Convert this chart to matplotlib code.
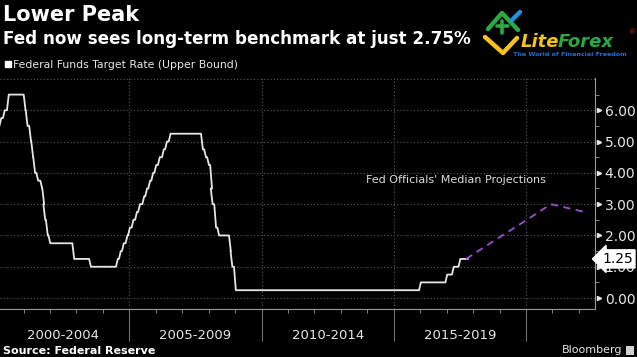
import matplotlib
matplotlib.use("Agg")
import matplotlib.pyplot as plt
import matplotlib.transforms as mtransforms
from matplotlib.lines import Line2D
import numpy as np
from datetime import date

# fed funds target rate, upper bound (change dates)
rate_dates = ["1999-11-16", "2000-02-02", "2000-03-21", "2000-05-16", "2001-01-03",
              "2001-01-31", "2001-03-20", "2001-04-18", "2001-05-15", "2001-06-27",
              "2001-08-21", "2001-09-17", "2001-10-02", "2001-11-06", "2001-12-11",
              "2002-11-06", "2003-06-25", "2004-06-30", "2004-08-10", "2004-09-21",
              "2004-11-10", "2004-12-14", "2005-02-02", "2005-03-22", "2005-05-03",
              "2005-06-30", "2005-08-09", "2005-09-20", "2005-11-01", "2005-12-13",
              "2006-01-31", "2006-03-28", "2006-05-10", "2006-06-29", "2007-09-18",
              "2007-10-31", "2007-12-11", "2008-01-22", "2008-01-30", "2008-03-18",
              "2008-04-30", "2008-10-08", "2008-10-29", "2008-12-16", "2015-12-16",
              "2016-12-14", "2017-03-15", "2017-06-14", "2017-09-25"]
rate_values = [5.50, 5.75, 6.00, 6.50, 6.00, 5.50, 5.00, 4.50, 4.00, 3.75,
               3.50, 3.00, 2.50, 2.00, 1.75, 1.25, 1.00, 1.25, 1.50, 1.75,
               2.00, 2.25, 2.50, 2.75, 3.00, 3.25, 3.50, 3.75, 4.00, 4.25,
               4.50, 4.75, 5.00, 5.25, 4.75, 4.50, 4.25, 3.50, 3.00, 2.25,
               2.00, 1.50, 1.00, 0.25, 0.50, 0.75, 1.00, 1.25, 1.25]

# fed officials' median projections
proj_dates = ["2017-09-25", "2018-12-31", "2019-12-31", "2020-12-10", "2022-03-25"]
proj_values = [1.25, 1.94, 2.48, 3.00, 2.75]

period_labels = ["2000-2004", "2005-2009", "2010-2014", "2015-2019"]
period_starts = [2000, 2005, 2010, 2015, 2020]
y_ticks = [0, 1, 2, 3, 4, 5, 6]
last_value = 1.25


def to_year(s):
    d = date.fromisoformat(s)
    start = date(d.year, 1, 1)
    return d.year + (d - start).days / 365.25


# the source chart is sampled coarsely, so each change ramps over ~ a month
ramp = 0.07
line_x, line_y = [], []
for i, s in enumerate(rate_dates):
    t = to_year(s)
    if i > 0:
        line_x.append(t)
        line_y.append(rate_values[i - 1])
        t = t + ramp
    line_x.append(t)
    line_y.append(rate_values[i])
proj_x = [to_year(s) for s in proj_dates]

W, H = 637, 357
fig = plt.figure(figsize=(W / 100, H / 100), dpi=100, facecolor="black")
ax = fig.add_axes([0, 1 - 309 / H, 595 / W, 231 / H], facecolor="black")

grid_col = "#5a5a5a"
axis_col = "#9a9a9a"

ax.set_xlim(2000.11, 2022.61)
ax.set_ylim(-0.35, 7.03)

for v in y_ticks + [7]:
    ax.axhline(v, color=grid_col, lw=0.8, ls=(0, (1, 2)), zorder=1)
for p in period_starts[1:]:
    ax.axvline(p, color=grid_col, lw=0.8, ls=(0, (1, 2)), zorder=1)

ax.plot(line_x, line_y, color="#e6e6e6", lw=1.3, zorder=3)
ax.plot(proj_x, proj_values, color="#9b4fd6", lw=1.3, ls=(0, (4, 3)), zorder=3)

ax.text(2017.36, 3.78, "Fed Officials' Median Projections", color="#dcdcdc",
        fontsize=8, ha="center", va="center")

# spines
for s in ["top", "left"]:
    ax.spines[s].set_visible(False)
ax.spines["right"].set_color(axis_col)
ax.spines["bottom"].set_color(axis_col)

# y axis on the right
ax.yaxis.tick_right()
ax.set_yticks(y_ticks)
ax.set_yticklabels(["%.2f" % v for v in y_ticks])
ax.set_yticks(np.arange(0.5, 7, 1), minor=True)
ax.tick_params(axis="y", which="major", length=0, pad=7, labelsize=10, labelcolor="#e6e6e6")
ax.tick_params(axis="y", which="minor", length=3, color=axis_col, direction="out")
tri = mtransforms.blended_transform_factory(ax.transAxes, ax.transData)
ax.plot([1.006] * len(y_ticks), y_ticks, marker=">", ms=3, ls="none",
        color="#e6e6e6", transform=tri, clip_on=False)

# x axis: yearly minor ticks, period labels in between separators
ax.set_xticks([])
ax.set_xticks(range(2001, 2023), minor=True)
ax.tick_params(axis="x", which="minor", length=3, color=axis_col, direction="out")
xt = ax.get_xaxis_transform()
ax.vlines(period_starts[1:], -0.14, 0, color="#6e6e6e", lw=0.8, transform=xt, clip_on=False)
for i, lab in enumerate(period_labels):
    mid = (period_starts[i] + period_starts[i + 1]) / 2
    ax.text(mid, -0.115, lab, transform=xt, ha="center", va="center",
            color="#e6e6e6", fontsize=9.5)

# last value tag (covers the 1.00 label, as in the original)
ax.text(1.012, last_value, "%.2f" % last_value, transform=tri, ha="left", va="center",
        fontsize=10, color="black", zorder=5,
        bbox=dict(boxstyle="larrow,pad=0.15", fc="white", ec="white"))

# titles
fig.text(3 / W, 1 - 15 / H, "Lower Peak", color="white", fontsize=15,
         fontweight="bold", ha="left", va="center")
fig.text(3 / W, 1 - 39 / H, "Fed now sees long-term benchmark at just 2.75%",
         color="white", fontsize=12.1, fontweight="bold", ha="left", va="center")
fig.add_artist(Line2D([7.5 / W], [1 - 64 / H], marker="s", ms=4.5, color="white",
                      transform=fig.transFigure))
fig.text(13 / W, 1 - 64.5 / H, "Federal Funds Target Rate (Upper Bound)",
         color="#e6e6e6", fontsize=7.8, ha="left", va="center")
fig.text(3 / W, 1 - 351 / H, "Source: Federal Reserve", color="white",
         fontsize=8, fontweight="bold", ha="left", va="center")
fig.text(622 / W, 1 - 350 / H, "Bloomberg", color="#e6e6e6",
         fontsize=8, ha="right", va="center")
fig.add_artist(plt.Rectangle((626 / W, 1 - 355 / H), 8 / W, 9 / H, fc="#cfcfcf",
                             transform=fig.transFigure))


# LiteForex watermark
def px_line(xs, ys, col, lw):
    fig.add_artist(Line2D([x / W for x in xs], [1 - y / H for y in ys], color=col,
                          lw=lw, solid_capstyle="round", transform=fig.transFigure))


px_line([485, 503, 517], [37, 53, 38], "#f5c21b", 3.2)
px_line([488, 502, 518], [29, 13, 30], "#2aa844", 3.2)
px_line([497, 508], [26, 26], "#2aa844", 2.6)
px_line([501.5, 501.5], [21, 33], "#2aa844", 2.6)
px_line([512, 520], [20, 12], "#1e90e0", 3.2)
fig.text(521 / W, 1 - 42 / H, "Lite", color="#f5c21b", fontsize=13,
         fontweight="bold", style="italic", ha="left", va="center")
fig.text(558 / W, 1 - 42 / H, "Forex", color="#2aa844", fontsize=13,
         fontweight="bold", style="italic", ha="left", va="center")
fig.text(629 / W, 1 - 32 / H, "®", color="#d02020", fontsize=5, ha="left", va="center")
fig.text(570 / W, 1 - 54 / H, "The World of Financial Freedom", color="#1e6fd0",
         fontsize=4.6, fontweight="bold", ha="center", va="center")

fig.savefig("out.png", dpi=100, facecolor="black")
